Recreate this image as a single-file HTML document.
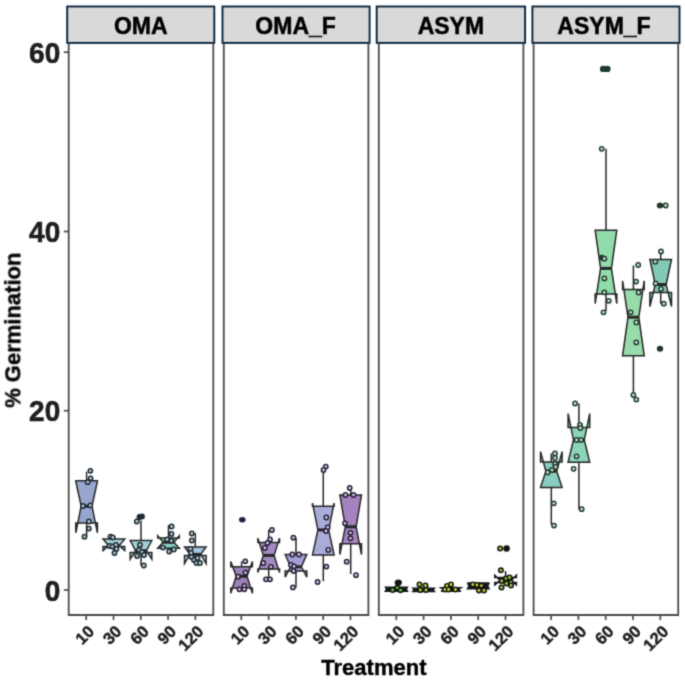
<!DOCTYPE html>
<html><head><meta charset="utf-8"><style>
html,body{margin:0;padding:0;background:#fff;}
svg{display:block;}
text{font-family:"Liberation Sans",sans-serif;font-weight:bold;}
.st{font-size:23px;fill:#000;stroke:#000;stroke-width:0.5px;}
.yl{font-size:28px;fill:#1e1e1e;stroke:#1e1e1e;stroke-width:0.6px;}
.xl{font-size:16.5px;fill:#1e1e1e;stroke:#1e1e1e;stroke-width:0.4px;}
.at{font-size:22px;fill:#000;stroke:#000;stroke-width:0.4px;}
</style></head><body>
<svg width="685" height="681" viewBox="0 0 685 681">
<defs><filter id="bl" x="0" y="0" width="685" height="681" filterUnits="userSpaceOnUse" color-interpolation-filters="sRGB"><feConvolveMatrix order="3" kernelMatrix="1 4 1 4 16 4 1 4 1" divisor="36" edgeMode="duplicate"/></filter></defs>
<g filter="url(#bl)">
<rect x="0" y="0" width="685" height="681" fill="#ffffff"/>
<rect x="67.2" y="6.5" width="147.1" height="36.4" fill="#d9d9d9" stroke="#08243c" stroke-width="1.9"/>
<text x="140.8" y="33.6" text-anchor="middle" class="st">OMA</text>
<rect x="222.5" y="6.5" width="147.1" height="36.4" fill="#d9d9d9" stroke="#08243c" stroke-width="1.9"/>
<text x="295.6" y="33.6" text-anchor="middle" class="st">OMA_F</text>
<rect x="376.7" y="6.5" width="148.4" height="36.4" fill="#d9d9d9" stroke="#08243c" stroke-width="1.9"/>
<text x="450.9" y="33.6" text-anchor="middle" class="st">ASYM</text>
<rect x="532.4" y="6.5" width="147.1" height="36.4" fill="#d9d9d9" stroke="#08243c" stroke-width="1.9"/>
<text x="604.0" y="33.6" text-anchor="middle" class="st">ASYM_F</text>
<path d="M68.7,43.7 L68.7,615.0 L213.3,615.0 L213.3,43.7" fill="none" stroke="#4a4a4a" stroke-width="1.8"/>
<line x1="86.2" y1="615.0" x2="86.2" y2="620.0" stroke="#4a4a4a" stroke-width="1.7"/>
<text class="xl" text-anchor="end" transform="translate(86.9,624.0) rotate(-45)" dy="0.72em">10</text>
<line x1="113.5" y1="615.0" x2="113.5" y2="620.0" stroke="#4a4a4a" stroke-width="1.7"/>
<text class="xl" text-anchor="end" transform="translate(114.2,624.0) rotate(-45)" dy="0.72em">30</text>
<line x1="140.8" y1="615.0" x2="140.8" y2="620.0" stroke="#4a4a4a" stroke-width="1.7"/>
<text class="xl" text-anchor="end" transform="translate(141.5,624.0) rotate(-45)" dy="0.72em">60</text>
<line x1="168.1" y1="615.0" x2="168.1" y2="620.0" stroke="#4a4a4a" stroke-width="1.7"/>
<text class="xl" text-anchor="end" transform="translate(168.8,624.0) rotate(-45)" dy="0.72em">90</text>
<line x1="195.4" y1="615.0" x2="195.4" y2="620.0" stroke="#4a4a4a" stroke-width="1.7"/>
<text class="xl" text-anchor="end" transform="translate(196.1,624.0) rotate(-45)" dy="0.72em">120</text>
<path d="M223.8,43.7 L223.8,615.0 L368.4,615.0 L368.4,43.7" fill="none" stroke="#4a4a4a" stroke-width="1.8"/>
<line x1="241.3" y1="615.0" x2="241.3" y2="620.0" stroke="#4a4a4a" stroke-width="1.7"/>
<text class="xl" text-anchor="end" transform="translate(242.0,624.0) rotate(-45)" dy="0.72em">10</text>
<line x1="268.6" y1="615.0" x2="268.6" y2="620.0" stroke="#4a4a4a" stroke-width="1.7"/>
<text class="xl" text-anchor="end" transform="translate(269.3,624.0) rotate(-45)" dy="0.72em">30</text>
<line x1="295.9" y1="615.0" x2="295.9" y2="620.0" stroke="#4a4a4a" stroke-width="1.7"/>
<text class="xl" text-anchor="end" transform="translate(296.6,624.0) rotate(-45)" dy="0.72em">60</text>
<line x1="323.2" y1="615.0" x2="323.2" y2="620.0" stroke="#4a4a4a" stroke-width="1.7"/>
<text class="xl" text-anchor="end" transform="translate(323.9,624.0) rotate(-45)" dy="0.72em">90</text>
<line x1="350.5" y1="615.0" x2="350.5" y2="620.0" stroke="#4a4a4a" stroke-width="1.7"/>
<text class="xl" text-anchor="end" transform="translate(351.2,624.0) rotate(-45)" dy="0.72em">120</text>
<path d="M378.8,43.7 L378.8,615.0 L523.4,615.0 L523.4,43.7" fill="none" stroke="#4a4a4a" stroke-width="1.8"/>
<line x1="396.3" y1="615.0" x2="396.3" y2="620.0" stroke="#4a4a4a" stroke-width="1.7"/>
<text class="xl" text-anchor="end" transform="translate(397.0,624.0) rotate(-45)" dy="0.72em">10</text>
<line x1="423.6" y1="615.0" x2="423.6" y2="620.0" stroke="#4a4a4a" stroke-width="1.7"/>
<text class="xl" text-anchor="end" transform="translate(424.3,624.0) rotate(-45)" dy="0.72em">30</text>
<line x1="450.9" y1="615.0" x2="450.9" y2="620.0" stroke="#4a4a4a" stroke-width="1.7"/>
<text class="xl" text-anchor="end" transform="translate(451.6,624.0) rotate(-45)" dy="0.72em">60</text>
<line x1="478.2" y1="615.0" x2="478.2" y2="620.0" stroke="#4a4a4a" stroke-width="1.7"/>
<text class="xl" text-anchor="end" transform="translate(478.9,624.0) rotate(-45)" dy="0.72em">90</text>
<line x1="505.5" y1="615.0" x2="505.5" y2="620.0" stroke="#4a4a4a" stroke-width="1.7"/>
<text class="xl" text-anchor="end" transform="translate(506.2,624.0) rotate(-45)" dy="0.72em">120</text>
<path d="M533.6,43.7 L533.6,615.0 L678.2,615.0 L678.2,43.7" fill="none" stroke="#4a4a4a" stroke-width="1.8"/>
<line x1="551.1" y1="615.0" x2="551.1" y2="620.0" stroke="#4a4a4a" stroke-width="1.7"/>
<text class="xl" text-anchor="end" transform="translate(551.8,624.0) rotate(-45)" dy="0.72em">10</text>
<line x1="578.4" y1="615.0" x2="578.4" y2="620.0" stroke="#4a4a4a" stroke-width="1.7"/>
<text class="xl" text-anchor="end" transform="translate(579.1,624.0) rotate(-45)" dy="0.72em">30</text>
<line x1="605.7" y1="615.0" x2="605.7" y2="620.0" stroke="#4a4a4a" stroke-width="1.7"/>
<text class="xl" text-anchor="end" transform="translate(606.4,624.0) rotate(-45)" dy="0.72em">60</text>
<line x1="633.0" y1="615.0" x2="633.0" y2="620.0" stroke="#4a4a4a" stroke-width="1.7"/>
<text class="xl" text-anchor="end" transform="translate(633.7,624.0) rotate(-45)" dy="0.72em">90</text>
<line x1="660.3" y1="615.0" x2="660.3" y2="620.0" stroke="#4a4a4a" stroke-width="1.7"/>
<text class="xl" text-anchor="end" transform="translate(661.0,624.0) rotate(-45)" dy="0.72em">120</text>
<line x1="63.8" y1="52.2" x2="68.7" y2="52.2" stroke="#4a4a4a" stroke-width="1.7"/>
<text transform="translate(60.2,62.9) scale(1,1.08)" text-anchor="end" class="yl">60</text>
<line x1="63.8" y1="231.5" x2="68.7" y2="231.5" stroke="#4a4a4a" stroke-width="1.7"/>
<text transform="translate(60.2,242.2) scale(1,1.08)" text-anchor="end" class="yl">40</text>
<line x1="63.8" y1="410.7" x2="68.7" y2="410.7" stroke="#4a4a4a" stroke-width="1.7"/>
<text transform="translate(60.2,421.4) scale(1,1.08)" text-anchor="end" class="yl">20</text>
<line x1="63.8" y1="590.0" x2="68.7" y2="590.0" stroke="#4a4a4a" stroke-width="1.7"/>
<text transform="translate(60.2,600.7) scale(1,1.08)" text-anchor="end" class="yl">0</text>
<line x1="86.6" y1="480.8" x2="86.6" y2="471.6" stroke="#262626" stroke-width="1.5"/>
<line x1="86.6" y1="522.9" x2="86.6" y2="536.5" stroke="#262626" stroke-width="1.5"/>
<path d="M75.8,480.8 L75.8,481.5 L81.2,506.2 L75.8,532.8 L75.8,522.9 L97.4,522.9 L97.4,532.8 L92.0,506.2 L97.4,481.5 L97.4,480.8 Z" fill="#97a5cf" stroke="#262626" stroke-width="1.5" stroke-linejoin="miter"/>
<line x1="81.2" y1="506.2" x2="92.0" y2="506.2" stroke="#262626" stroke-width="3.0"/>
<line x1="113.9" y1="539.0" x2="113.9" y2="536.6" stroke="#262626" stroke-width="1.5"/>
<line x1="113.9" y1="546.5" x2="113.9" y2="553.0" stroke="#262626" stroke-width="1.5"/>
<path d="M103.1,539.0 L103.1,539.0 L108.5,545.6 L103.1,550.5 L103.1,546.5 L124.7,546.5 L124.7,550.5 L119.3,545.6 L124.7,539.0 L124.7,539.0 Z" fill="#a9d0d9" stroke="#262626" stroke-width="1.5" stroke-linejoin="miter"/>
<line x1="108.5" y1="545.6" x2="119.3" y2="545.6" stroke="#262626" stroke-width="3.0"/>
<line x1="141.0" y1="540.5" x2="141.0" y2="520.5" stroke="#262626" stroke-width="1.5"/>
<line x1="141.0" y1="552.5" x2="141.0" y2="565.5" stroke="#262626" stroke-width="1.5"/>
<path d="M130.2,540.5 L130.2,540.5 L135.6,550.7 L130.2,559.2 L130.2,552.5 L151.8,552.5 L151.8,559.2 L146.4,550.7 L151.8,540.5 L151.8,540.5 Z" fill="#a0d2d6" stroke="#262626" stroke-width="1.5" stroke-linejoin="miter"/>
<line x1="135.6" y1="550.7" x2="146.4" y2="550.7" stroke="#262626" stroke-width="3.0"/>
<line x1="168.5" y1="538.0" x2="168.5" y2="525.0" stroke="#262626" stroke-width="1.5"/>
<line x1="168.5" y1="548.3" x2="168.5" y2="551.0" stroke="#262626" stroke-width="1.5"/>
<path d="M157.7,538.0 L157.7,535.8 L163.1,542.2 L157.7,548.3 L157.7,548.3 L179.3,548.3 L179.3,548.3 L173.9,542.2 L179.3,535.8 L179.3,538.0 Z" fill="#8ccfbf" stroke="#262626" stroke-width="1.5" stroke-linejoin="miter"/>
<line x1="163.1" y1="542.2" x2="173.9" y2="542.2" stroke="#262626" stroke-width="3.0"/>
<line x1="195.3" y1="546.9" x2="195.3" y2="533.0" stroke="#262626" stroke-width="1.5"/>
<line x1="195.3" y1="555.5" x2="195.3" y2="563.0" stroke="#262626" stroke-width="1.5"/>
<path d="M184.5,546.9 L184.5,546.9 L189.9,554.4 L184.5,563.6 L184.5,555.5 L206.1,555.5 L206.1,563.6 L200.7,554.4 L206.1,546.9 L206.1,546.9 Z" fill="#a7c3e2" stroke="#262626" stroke-width="1.5" stroke-linejoin="miter"/>
<line x1="189.9" y1="554.4" x2="200.7" y2="554.4" stroke="#262626" stroke-width="3.0"/>
<circle cx="90.4" cy="470.8" r="2.15" fill="#b8ccd0" stroke="#1c2834" stroke-width="1.5"/>
<circle cx="90.6" cy="478.3" r="2.15" fill="#b8ccd0" stroke="#1c2834" stroke-width="1.5"/>
<circle cx="87.7" cy="482.2" r="2.15" fill="#b8ccd0" stroke="#1c2834" stroke-width="1.5"/>
<circle cx="82.9" cy="506.0" r="2.15" fill="#b8ccd0" stroke="#1c2834" stroke-width="1.5"/>
<circle cx="90.3" cy="505.4" r="2.15" fill="#b8ccd0" stroke="#1c2834" stroke-width="1.5"/>
<circle cx="88.9" cy="521.5" r="2.15" fill="#b8ccd0" stroke="#1c2834" stroke-width="1.5"/>
<circle cx="88.9" cy="528.6" r="2.15" fill="#b8ccd0" stroke="#1c2834" stroke-width="1.5"/>
<circle cx="84.5" cy="536.7" r="2.15" fill="#b8ccd0" stroke="#1c2834" stroke-width="1.5"/>
<circle cx="110.5" cy="536.6" r="2.15" fill="#b8ccd0" stroke="#1c2834" stroke-width="1.5"/>
<circle cx="112.8" cy="537.5" r="2.15" fill="#b8ccd0" stroke="#1c2834" stroke-width="1.5"/>
<circle cx="109.5" cy="546.0" r="2.15" fill="#b8ccd0" stroke="#1c2834" stroke-width="1.5"/>
<circle cx="112.5" cy="546.5" r="2.15" fill="#b8ccd0" stroke="#1c2834" stroke-width="1.5"/>
<circle cx="116.0" cy="545.0" r="2.15" fill="#b8ccd0" stroke="#1c2834" stroke-width="1.5"/>
<circle cx="116.5" cy="549.0" r="2.15" fill="#b8ccd0" stroke="#1c2834" stroke-width="1.5"/>
<circle cx="114.5" cy="553.0" r="2.15" fill="#b8ccd0" stroke="#1c2834" stroke-width="1.5"/>
<circle cx="139.5" cy="517.0" r="2.15" fill="#1c2834" stroke="#1c2834" stroke-width="1.5"/>
<circle cx="142.0" cy="516.5" r="2.15" fill="#1c2834" stroke="#1c2834" stroke-width="1.5"/>
<circle cx="136.8" cy="521.5" r="2.15" fill="#b8ccd0" stroke="#1c2834" stroke-width="1.5"/>
<circle cx="140.0" cy="545.0" r="2.15" fill="#b8ccd0" stroke="#1c2834" stroke-width="1.5"/>
<circle cx="139.0" cy="550.0" r="2.15" fill="#b8ccd0" stroke="#1c2834" stroke-width="1.5"/>
<circle cx="142.0" cy="552.0" r="2.15" fill="#b8ccd0" stroke="#1c2834" stroke-width="1.5"/>
<circle cx="137.0" cy="556.0" r="2.15" fill="#b8ccd0" stroke="#1c2834" stroke-width="1.5"/>
<circle cx="144.0" cy="555.0" r="2.15" fill="#b8ccd0" stroke="#1c2834" stroke-width="1.5"/>
<circle cx="143.8" cy="565.5" r="2.15" fill="#b8ccd0" stroke="#1c2834" stroke-width="1.5"/>
<circle cx="171.6" cy="526.5" r="2.15" fill="#b8ccd0" stroke="#1c2834" stroke-width="1.5"/>
<circle cx="171.5" cy="534.0" r="2.15" fill="#b8ccd0" stroke="#1c2834" stroke-width="1.5"/>
<circle cx="167.2" cy="539.5" r="2.15" fill="#b8ccd0" stroke="#1c2834" stroke-width="1.5"/>
<circle cx="171.4" cy="540.8" r="2.15" fill="#b8ccd0" stroke="#1c2834" stroke-width="1.5"/>
<circle cx="163.0" cy="547.6" r="2.15" fill="#b8ccd0" stroke="#1c2834" stroke-width="1.5"/>
<circle cx="173.8" cy="549.5" r="2.15" fill="#b8ccd0" stroke="#1c2834" stroke-width="1.5"/>
<circle cx="169.2" cy="551.5" r="2.15" fill="#b8ccd0" stroke="#1c2834" stroke-width="1.5"/>
<circle cx="191.8" cy="533.5" r="2.15" fill="#b8ccd0" stroke="#1c2834" stroke-width="1.5"/>
<circle cx="191.8" cy="540.5" r="2.15" fill="#b8ccd0" stroke="#1c2834" stroke-width="1.5"/>
<circle cx="190.5" cy="549.0" r="2.15" fill="#b8ccd0" stroke="#1c2834" stroke-width="1.5"/>
<circle cx="191.0" cy="553.0" r="2.15" fill="#b8ccd0" stroke="#1c2834" stroke-width="1.5"/>
<circle cx="191.5" cy="557.0" r="2.15" fill="#b8ccd0" stroke="#1c2834" stroke-width="1.5"/>
<circle cx="194.0" cy="560.0" r="2.15" fill="#b8ccd0" stroke="#1c2834" stroke-width="1.5"/>
<circle cx="196.5" cy="563.0" r="2.15" fill="#b8ccd0" stroke="#1c2834" stroke-width="1.5"/>
<circle cx="200.0" cy="563.0" r="2.15" fill="#b8ccd0" stroke="#1c2834" stroke-width="1.5"/>
<circle cx="197.5" cy="558.0" r="2.15" fill="#b8ccd0" stroke="#1c2834" stroke-width="1.5"/>
<line x1="241.6" y1="566.7" x2="241.6" y2="561.3" stroke="#262626" stroke-width="1.5"/>
<line x1="241.6" y1="588.0" x2="241.6" y2="589.3" stroke="#262626" stroke-width="1.5"/>
<path d="M230.8,566.7 L230.8,561.6 L236.2,576.3 L230.8,593.2 L230.8,588.0 L252.4,588.0 L252.4,593.2 L247.0,576.3 L252.4,561.6 L252.4,566.7 Z" fill="#9d82b8" stroke="#262626" stroke-width="1.5" stroke-linejoin="miter"/>
<line x1="236.2" y1="576.3" x2="247.0" y2="576.3" stroke="#262626" stroke-width="3.0"/>
<line x1="268.7" y1="542.5" x2="268.7" y2="530.0" stroke="#262626" stroke-width="1.5"/>
<line x1="268.7" y1="569.0" x2="268.7" y2="579.3" stroke="#262626" stroke-width="1.5"/>
<path d="M257.9,542.5 L257.9,538.1 L263.3,555.4 L257.9,572.6 L257.9,569.0 L279.5,569.0 L279.5,572.6 L274.1,555.4 L279.5,538.1 L279.5,542.5 Z" fill="#a58bc4" stroke="#262626" stroke-width="1.5" stroke-linejoin="miter"/>
<line x1="263.3" y1="555.4" x2="274.1" y2="555.4" stroke="#262626" stroke-width="3.0"/>
<line x1="296.0" y1="554.5" x2="296.0" y2="537.7" stroke="#262626" stroke-width="1.5"/>
<line x1="296.0" y1="571.0" x2="296.0" y2="587.4" stroke="#262626" stroke-width="1.5"/>
<path d="M285.2,554.5 L285.2,554.5 L290.6,566.8 L285.2,577.1 L285.2,571.0 L306.8,571.0 L306.8,577.1 L301.4,566.8 L306.8,554.5 L306.8,554.5 Z" fill="#a39fd5" stroke="#262626" stroke-width="1.5" stroke-linejoin="miter"/>
<line x1="290.6" y1="566.8" x2="301.4" y2="566.8" stroke="#262626" stroke-width="3.0"/>
<line x1="323.3" y1="506.2" x2="323.3" y2="468.2" stroke="#262626" stroke-width="1.5"/>
<line x1="323.3" y1="554.9" x2="323.3" y2="581.2" stroke="#262626" stroke-width="1.5"/>
<path d="M312.5,506.2 L312.5,503.1 L317.9,529.9 L312.5,554.9 L312.5,554.9 L334.1,554.9 L334.1,554.9 L328.7,529.9 L334.1,503.1 L334.1,506.2 Z" fill="#a9acd9" stroke="#262626" stroke-width="1.5" stroke-linejoin="miter"/>
<line x1="317.9" y1="529.9" x2="328.7" y2="529.9" stroke="#262626" stroke-width="3.0"/>
<line x1="350.7" y1="494.9" x2="350.7" y2="488.0" stroke="#262626" stroke-width="1.5"/>
<line x1="350.7" y1="543.8" x2="350.7" y2="574.0" stroke="#262626" stroke-width="1.5"/>
<path d="M339.9,494.9 L339.9,494.9 L345.3,526.8 L339.9,554.5 L339.9,543.8 L361.5,543.8 L361.5,554.5 L356.1,526.8 L361.5,494.9 L361.5,494.9 Z" fill="#a682c0" stroke="#262626" stroke-width="1.5" stroke-linejoin="miter"/>
<line x1="345.3" y1="526.8" x2="356.1" y2="526.8" stroke="#262626" stroke-width="3.0"/>
<circle cx="245.3" cy="561.3" r="2.15" fill="#d4cce0" stroke="#261c38" stroke-width="1.5"/>
<circle cx="245.5" cy="572.7" r="2.15" fill="#d4cce0" stroke="#261c38" stroke-width="1.5"/>
<circle cx="238.0" cy="576.7" r="2.15" fill="#d4cce0" stroke="#261c38" stroke-width="1.5"/>
<circle cx="244.4" cy="586.0" r="2.15" fill="#d4cce0" stroke="#261c38" stroke-width="1.5"/>
<circle cx="239.4" cy="589.3" r="2.15" fill="#d4cce0" stroke="#261c38" stroke-width="1.5"/>
<circle cx="244.3" cy="589.3" r="2.15" fill="#d4cce0" stroke="#261c38" stroke-width="1.5"/>
<ellipse cx="242.3" cy="519.8" rx="3.3" ry="2.7" fill="#261c38"/>
<circle cx="271.9" cy="530.0" r="2.15" fill="#d4cce0" stroke="#261c38" stroke-width="1.5"/>
<circle cx="270.0" cy="539.5" r="2.15" fill="#d4cce0" stroke="#261c38" stroke-width="1.5"/>
<circle cx="267.5" cy="543.0" r="2.15" fill="#d4cce0" stroke="#261c38" stroke-width="1.5"/>
<circle cx="264.9" cy="548.0" r="2.15" fill="#d4cce0" stroke="#261c38" stroke-width="1.5"/>
<circle cx="263.3" cy="563.0" r="2.15" fill="#d4cce0" stroke="#261c38" stroke-width="1.5"/>
<circle cx="270.9" cy="566.8" r="2.15" fill="#d4cce0" stroke="#261c38" stroke-width="1.5"/>
<circle cx="266.0" cy="579.3" r="2.15" fill="#d4cce0" stroke="#261c38" stroke-width="1.5"/>
<circle cx="270.0" cy="579.3" r="2.15" fill="#d4cce0" stroke="#261c38" stroke-width="1.5"/>
<circle cx="293.4" cy="537.7" r="2.15" fill="#d4cce0" stroke="#261c38" stroke-width="1.5"/>
<circle cx="292.3" cy="554.5" r="2.15" fill="#d4cce0" stroke="#261c38" stroke-width="1.5"/>
<circle cx="299.0" cy="554.5" r="2.15" fill="#d4cce0" stroke="#261c38" stroke-width="1.5"/>
<circle cx="291.0" cy="565.0" r="2.15" fill="#d4cce0" stroke="#261c38" stroke-width="1.5"/>
<circle cx="294.0" cy="566.4" r="2.15" fill="#d4cce0" stroke="#261c38" stroke-width="1.5"/>
<circle cx="293.6" cy="571.0" r="2.15" fill="#d4cce0" stroke="#261c38" stroke-width="1.5"/>
<circle cx="292.9" cy="587.4" r="2.15" fill="#d4cce0" stroke="#261c38" stroke-width="1.5"/>
<circle cx="325.8" cy="466.6" r="2.15" fill="#d4cce0" stroke="#261c38" stroke-width="1.5"/>
<circle cx="323.5" cy="470.0" r="2.15" fill="#d4cce0" stroke="#261c38" stroke-width="1.5"/>
<circle cx="326.3" cy="517.5" r="2.15" fill="#d4cce0" stroke="#261c38" stroke-width="1.5"/>
<circle cx="327.7" cy="527.5" r="2.15" fill="#d4cce0" stroke="#261c38" stroke-width="1.5"/>
<circle cx="326.0" cy="531.0" r="2.15" fill="#d4cce0" stroke="#261c38" stroke-width="1.5"/>
<circle cx="328.3" cy="550.0" r="2.15" fill="#d4cce0" stroke="#261c38" stroke-width="1.5"/>
<circle cx="326.4" cy="566.6" r="2.15" fill="#d4cce0" stroke="#261c38" stroke-width="1.5"/>
<circle cx="317.6" cy="582.0" r="2.15" fill="#d4cce0" stroke="#261c38" stroke-width="1.5"/>
<circle cx="349.7" cy="488.0" r="2.15" fill="#d4cce0" stroke="#261c38" stroke-width="1.5"/>
<circle cx="345.5" cy="495.0" r="2.15" fill="#d4cce0" stroke="#261c38" stroke-width="1.5"/>
<circle cx="353.5" cy="495.0" r="2.15" fill="#d4cce0" stroke="#261c38" stroke-width="1.5"/>
<circle cx="345.0" cy="523.3" r="2.15" fill="#d4cce0" stroke="#261c38" stroke-width="1.5"/>
<circle cx="350.5" cy="532.8" r="2.15" fill="#d4cce0" stroke="#261c38" stroke-width="1.5"/>
<circle cx="350.5" cy="538.3" r="2.15" fill="#d4cce0" stroke="#261c38" stroke-width="1.5"/>
<circle cx="346.7" cy="561.7" r="2.15" fill="#d4cce0" stroke="#261c38" stroke-width="1.5"/>
<circle cx="356.0" cy="575.2" r="2.15" fill="#d4cce0" stroke="#261c38" stroke-width="1.5"/>
<path d="M385.4,587.2 L385.4,587.2 L386.6,589.2 L385.4,591.2 L385.4,591.2 L407.4,591.2 L407.4,591.2 L406.2,589.2 L407.4,587.2 L407.4,587.2 Z" fill="#15171c" stroke="#15171c" stroke-width="1.5" stroke-linejoin="miter"/>
<line x1="386.6" y1="589.2" x2="406.2" y2="589.2" stroke="#15171c" stroke-width="3.0"/>
<path d="M412.8,588.2 L412.8,588.2 L414.0,590.0 L412.8,591.6 L412.8,591.6 L434.4,591.6 L434.4,591.6 L433.2,590.0 L434.4,588.2 L434.4,588.2 Z" fill="#15171c" stroke="#15171c" stroke-width="1.5" stroke-linejoin="miter"/>
<line x1="414.0" y1="590.0" x2="433.2" y2="590.0" stroke="#15171c" stroke-width="3.0"/>
<path d="M441.1,587.8 L441.1,587.8 L444.1,589.6 L441.1,591.2 L441.1,591.2 L460.9,591.2 L460.9,591.2 L457.9,589.6 L460.9,587.8 L460.9,587.8 Z" fill="#15171c" stroke="#15171c" stroke-width="1.5" stroke-linejoin="miter"/>
<line x1="444.1" y1="589.6" x2="457.9" y2="589.6" stroke="#15171c" stroke-width="3.0"/>
<path d="M467.5,583.0 L467.5,582.8 L469.0,585.9 L467.5,588.7 L467.5,588.7 L489.1,588.7 L489.1,588.7 L487.6,585.9 L489.1,582.8 L489.1,583.0 Z" fill="#15171c" stroke="#15171c" stroke-width="1.5" stroke-linejoin="miter"/>
<line x1="469.0" y1="585.9" x2="487.6" y2="585.9" stroke="#15171c" stroke-width="3.0"/>
<line x1="505.6" y1="577.5" x2="505.6" y2="571.0" stroke="#15171c" stroke-width="1.5"/>
<path d="M494.8,577.5 L494.8,575.2 L500.2,580.4 L494.8,584.9 L494.8,582.5 L516.4,582.5 L516.4,584.9 L511.0,580.4 L516.4,575.2 L516.4,577.5 Z" fill="#15171c" stroke="#15171c" stroke-width="1.5" stroke-linejoin="miter"/>
<line x1="500.2" y1="580.4" x2="511.0" y2="580.4" stroke="#15171c" stroke-width="3.0"/>
<circle cx="392.6" cy="590.0" r="2.2" fill="#78cc58" stroke="#12160e" stroke-width="1.6"/>
<circle cx="397.3" cy="587.8" r="2.2" fill="#78cc58" stroke="#12160e" stroke-width="1.6"/>
<circle cx="400.5" cy="590.2" r="2.2" fill="#78cc58" stroke="#12160e" stroke-width="1.6"/>
<ellipse cx="398.3" cy="582.6" rx="3.6" ry="3.2" fill="#12160e"/>
<circle cx="419.5" cy="584.5" r="2.2" fill="#bcdc44" stroke="#12160e" stroke-width="1.6"/>
<circle cx="425.5" cy="585.5" r="2.2" fill="#bcdc44" stroke="#12160e" stroke-width="1.6"/>
<circle cx="420.3" cy="590.0" r="2.2" fill="#bcdc44" stroke="#12160e" stroke-width="1.6"/>
<circle cx="426.0" cy="590.0" r="2.2" fill="#bcdc44" stroke="#12160e" stroke-width="1.6"/>
<circle cx="447.0" cy="586.0" r="2.2" fill="#d8e03c" stroke="#12160e" stroke-width="1.6"/>
<circle cx="451.0" cy="584.5" r="2.2" fill="#d8e03c" stroke="#12160e" stroke-width="1.6"/>
<circle cx="445.0" cy="589.5" r="2.2" fill="#d8e03c" stroke="#12160e" stroke-width="1.6"/>
<circle cx="448.6" cy="589.5" r="2.2" fill="#d8e03c" stroke="#12160e" stroke-width="1.6"/>
<circle cx="455.5" cy="589.5" r="2.2" fill="#d8e03c" stroke="#12160e" stroke-width="1.6"/>
<circle cx="472.8" cy="584.5" r="2.2" fill="#dcd040" stroke="#12160e" stroke-width="1.6"/>
<circle cx="477.0" cy="585.0" r="2.2" fill="#dcd040" stroke="#12160e" stroke-width="1.6"/>
<circle cx="481.4" cy="585.6" r="2.2" fill="#dcd040" stroke="#12160e" stroke-width="1.6"/>
<circle cx="479.0" cy="590.4" r="2.2" fill="#dcd040" stroke="#12160e" stroke-width="1.6"/>
<circle cx="484.0" cy="590.4" r="2.2" fill="#dcd040" stroke="#12160e" stroke-width="1.6"/>
<circle cx="500.9" cy="570.3" r="2.2" fill="#a4d048" stroke="#12160e" stroke-width="1.6"/>
<circle cx="506.0" cy="578.5" r="2.2" fill="#a4d048" stroke="#12160e" stroke-width="1.6"/>
<circle cx="509.5" cy="577.5" r="2.2" fill="#a4d048" stroke="#12160e" stroke-width="1.6"/>
<circle cx="501.7" cy="581.0" r="2.2" fill="#a4d048" stroke="#12160e" stroke-width="1.6"/>
<circle cx="506.5" cy="583.5" r="2.2" fill="#a4d048" stroke="#12160e" stroke-width="1.6"/>
<circle cx="511.0" cy="582.5" r="2.2" fill="#a4d048" stroke="#12160e" stroke-width="1.6"/>
<circle cx="511.0" cy="585.5" r="2.2" fill="#a4d048" stroke="#12160e" stroke-width="1.6"/>
<circle cx="501.5" cy="587.5" r="2.2" fill="#a4d048" stroke="#12160e" stroke-width="1.6"/>
<circle cx="500.1" cy="548.5" r="2.2" fill="#a4d048" stroke="#12160e" stroke-width="1.6"/>
<ellipse cx="506.6" cy="548.5" rx="3.3" ry="3.2" fill="#12160e"/>
<line x1="551.3" y1="461.9" x2="551.3" y2="453.5" stroke="#262626" stroke-width="1.5"/>
<line x1="551.3" y1="487.6" x2="551.3" y2="524.6" stroke="#262626" stroke-width="1.5"/>
<path d="M540.5,461.9 L540.5,451.6 L545.9,471.2 L540.5,487.6 L540.5,487.6 L562.1,487.6 L562.1,487.6 L556.7,471.2 L562.1,451.6 L562.1,461.9 Z" fill="#89cdc2" stroke="#262626" stroke-width="1.5" stroke-linejoin="miter"/>
<line x1="545.9" y1="471.2" x2="556.7" y2="471.2" stroke="#262626" stroke-width="3.0"/>
<line x1="578.9" y1="427.4" x2="578.9" y2="403.4" stroke="#262626" stroke-width="1.5"/>
<line x1="578.9" y1="462.3" x2="578.9" y2="509.2" stroke="#262626" stroke-width="1.5"/>
<path d="M568.1,427.4 L568.1,413.6 L573.5,439.9 L568.1,462.3 L568.1,462.3 L589.7,462.3 L589.7,462.3 L584.3,439.9 L589.7,413.6 L589.7,427.4 Z" fill="#8dd5b9" stroke="#262626" stroke-width="1.5" stroke-linejoin="miter"/>
<line x1="573.5" y1="439.9" x2="584.3" y2="439.9" stroke="#262626" stroke-width="3.0"/>
<line x1="606.0" y1="230.3" x2="606.0" y2="148.8" stroke="#262626" stroke-width="1.5"/>
<line x1="606.0" y1="294.1" x2="606.0" y2="311.0" stroke="#262626" stroke-width="1.5"/>
<path d="M595.2,230.3 L595.2,230.3 L600.6,268.4 L595.2,303.6 L595.2,294.1 L616.8,294.1 L616.8,303.6 L611.4,268.4 L616.8,230.3 L616.8,230.3 Z" fill="#91dcab" stroke="#262626" stroke-width="1.5" stroke-linejoin="miter"/>
<line x1="600.6" y1="268.4" x2="611.4" y2="268.4" stroke="#262626" stroke-width="3.0"/>
<line x1="633.4" y1="289.6" x2="633.4" y2="265.4" stroke="#262626" stroke-width="1.5"/>
<line x1="633.4" y1="355.8" x2="633.4" y2="396.3" stroke="#262626" stroke-width="1.5"/>
<path d="M622.6,289.6 L622.6,280.8 L628.0,317.2 L622.6,355.8 L622.6,355.8 L644.2,355.8 L644.2,355.8 L638.8,317.2 L644.2,280.8 L644.2,289.6 Z" fill="#98dcac" stroke="#262626" stroke-width="1.5" stroke-linejoin="miter"/>
<line x1="628.0" y1="317.2" x2="638.8" y2="317.2" stroke="#262626" stroke-width="3.0"/>
<line x1="660.7" y1="259.5" x2="660.7" y2="252.0" stroke="#262626" stroke-width="1.5"/>
<line x1="660.7" y1="292.6" x2="660.7" y2="303.7" stroke="#262626" stroke-width="1.5"/>
<path d="M649.9,259.5 L649.9,259.5 L655.3,284.5 L649.9,306.5 L649.9,292.6 L671.5,292.6 L671.5,306.5 L666.1,284.5 L671.5,259.5 L671.5,259.5 Z" fill="#82c9b8" stroke="#262626" stroke-width="1.5" stroke-linejoin="miter"/>
<line x1="655.3" y1="284.5" x2="666.1" y2="284.5" stroke="#262626" stroke-width="3.0"/>
<circle cx="555.0" cy="453.5" r="2.15" fill="#d0e6d8" stroke="#1e3a2a" stroke-width="1.5"/>
<circle cx="555.0" cy="458.0" r="2.15" fill="#d0e6d8" stroke="#1e3a2a" stroke-width="1.5"/>
<circle cx="555.0" cy="464.0" r="2.15" fill="#d0e6d8" stroke="#1e3a2a" stroke-width="1.5"/>
<circle cx="555.6" cy="467.0" r="2.15" fill="#d0e6d8" stroke="#1e3a2a" stroke-width="1.5"/>
<circle cx="547.6" cy="472.4" r="2.15" fill="#d0e6d8" stroke="#1e3a2a" stroke-width="1.5"/>
<circle cx="552.0" cy="470.0" r="2.15" fill="#d0e6d8" stroke="#1e3a2a" stroke-width="1.5"/>
<circle cx="553.8" cy="503.3" r="2.15" fill="#d0e6d8" stroke="#1e3a2a" stroke-width="1.5"/>
<circle cx="554.0" cy="525.6" r="2.15" fill="#d0e6d8" stroke="#1e3a2a" stroke-width="1.5"/>
<circle cx="575.1" cy="403.5" r="2.15" fill="#d0e6d8" stroke="#1e3a2a" stroke-width="1.5"/>
<circle cx="580.0" cy="425.0" r="2.15" fill="#d0e6d8" stroke="#1e3a2a" stroke-width="1.5"/>
<circle cx="580.4" cy="428.0" r="2.15" fill="#d0e6d8" stroke="#1e3a2a" stroke-width="1.5"/>
<circle cx="581.0" cy="439.9" r="2.15" fill="#d0e6d8" stroke="#1e3a2a" stroke-width="1.5"/>
<circle cx="576.6" cy="440.0" r="2.15" fill="#d0e6d8" stroke="#1e3a2a" stroke-width="1.5"/>
<circle cx="576.6" cy="456.3" r="2.15" fill="#d0e6d8" stroke="#1e3a2a" stroke-width="1.5"/>
<circle cx="573.6" cy="468.8" r="2.15" fill="#d0e6d8" stroke="#1e3a2a" stroke-width="1.5"/>
<circle cx="581.7" cy="509.2" r="2.15" fill="#d0e6d8" stroke="#1e3a2a" stroke-width="1.5"/>
<circle cx="601.7" cy="148.8" r="2.15" fill="#d0e6d8" stroke="#1e3a2a" stroke-width="1.5"/>
<circle cx="601.8" cy="257.7" r="2.15" fill="#1e3a2a" stroke="#1e3a2a" stroke-width="1.5"/>
<circle cx="604.4" cy="258.7" r="2.15" fill="#d0e6d8" stroke="#1e3a2a" stroke-width="1.5"/>
<circle cx="604.4" cy="278.4" r="2.15" fill="#d0e6d8" stroke="#1e3a2a" stroke-width="1.5"/>
<circle cx="604.3" cy="292.3" r="2.15" fill="#d0e6d8" stroke="#1e3a2a" stroke-width="1.5"/>
<circle cx="608.8" cy="300.8" r="2.15" fill="#d0e6d8" stroke="#1e3a2a" stroke-width="1.5"/>
<circle cx="603.5" cy="312.3" r="2.15" fill="#d0e6d8" stroke="#1e3a2a" stroke-width="1.5"/>
<ellipse cx="603.2" cy="68.9" rx="3.3" ry="3.2" fill="#1e3a2a"/>
<ellipse cx="607.3" cy="68.9" rx="3.3" ry="3.2" fill="#1e3a2a"/>
<circle cx="638.2" cy="265.0" r="2.15" fill="#d0e6d8" stroke="#1e3a2a" stroke-width="1.5"/>
<circle cx="636.1" cy="281.6" r="2.15" fill="#d0e6d8" stroke="#1e3a2a" stroke-width="1.5"/>
<circle cx="638.6" cy="292.5" r="2.15" fill="#d0e6d8" stroke="#1e3a2a" stroke-width="1.5"/>
<circle cx="630.6" cy="312.3" r="2.15" fill="#d0e6d8" stroke="#1e3a2a" stroke-width="1.5"/>
<circle cx="636.3" cy="322.5" r="2.15" fill="#d0e6d8" stroke="#1e3a2a" stroke-width="1.5"/>
<circle cx="636.3" cy="342.4" r="2.15" fill="#d0e6d8" stroke="#1e3a2a" stroke-width="1.5"/>
<circle cx="633.4" cy="395.0" r="2.15" fill="#d0e6d8" stroke="#1e3a2a" stroke-width="1.5"/>
<circle cx="636.3" cy="399.6" r="2.15" fill="#d0e6d8" stroke="#1e3a2a" stroke-width="1.5"/>
<circle cx="661.0" cy="251.5" r="2.15" fill="#d0e6d8" stroke="#1e3a2a" stroke-width="1.5"/>
<circle cx="655.3" cy="261.7" r="2.15" fill="#d0e6d8" stroke="#1e3a2a" stroke-width="1.5"/>
<circle cx="655.6" cy="283.5" r="2.15" fill="#d0e6d8" stroke="#1e3a2a" stroke-width="1.5"/>
<circle cx="661.0" cy="289.0" r="2.15" fill="#d0e6d8" stroke="#1e3a2a" stroke-width="1.5"/>
<circle cx="663.8" cy="303.7" r="2.15" fill="#d0e6d8" stroke="#1e3a2a" stroke-width="1.5"/>
<ellipse cx="660.0" cy="205.5" rx="3.2" ry="3.0" fill="#1e3a2a"/>
<circle cx="665.7" cy="205.5" r="2.15" fill="#d0e6d8" stroke="#1e3a2a" stroke-width="1.5"/>
<ellipse cx="660.0" cy="348.8" rx="3.2" ry="3.0" fill="#1e3a2a"/>
<text x="373.9" y="674.8" text-anchor="middle" class="at">Treatment</text>
<text transform="translate(20.3,330.3) rotate(-90)" text-anchor="middle" class="at">% Germination</text>
</g>
</svg>
</body></html>
